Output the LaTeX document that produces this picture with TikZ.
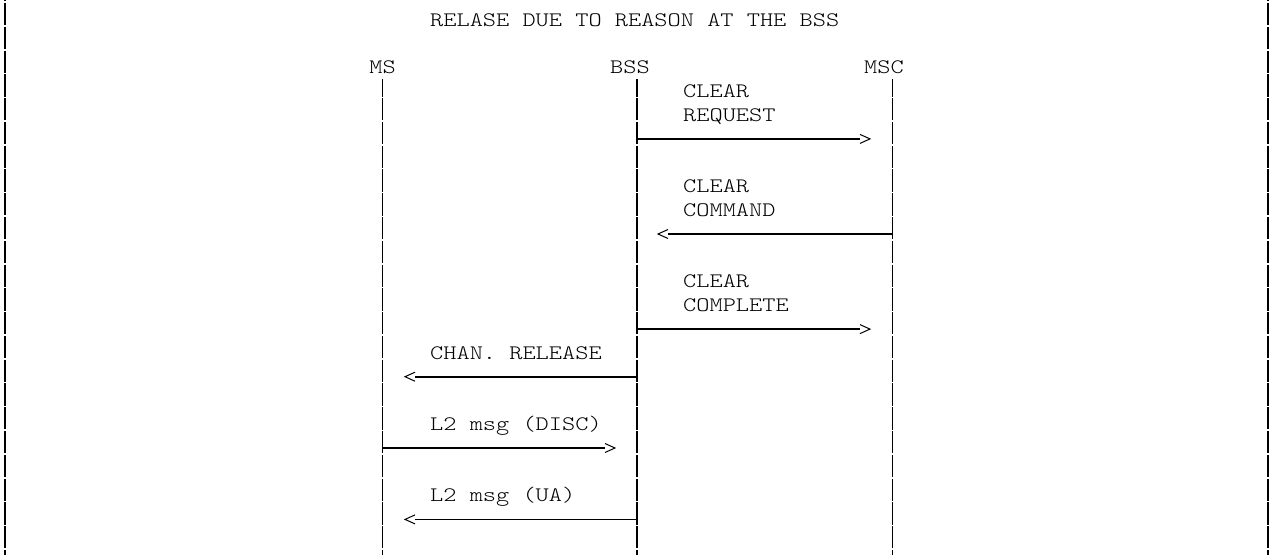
\documentclass[tikz,border=0pt]{standalone}
\usepackage{fontspec}
\newfontfamily\courfont{lmmonolt10-regular.otf}[FakeStretch=1.22]
\begin{document}
\begin{tikzpicture}[x=1pt,y=-1pt,
  txt/.style={font=\courfont\fontsize{20.6}{26}\selectfont, inner sep=0pt, anchor=base west},
  ctxt/.style={font=\courfont\fontsize{20.6}{26}\selectfont, inner sep=0pt, anchor=base},
  life/.style={line width=1.8pt, dash pattern=on 22.28pt off 1.5pt, dash phase=4.68pt},
  border/.style={line width=1.8pt, dash pattern=on 22.28pt off 1.5pt, dash phase=20.83pt},
  msg/.style={line width=1.6pt},
  rhead/.pic={\draw[line width=1pt] (-10,-4.5) -- (0,0) -- (-10,4.5);},
  lhead/.pic={\draw[line width=1pt] (10,-4.5) -- (0,0) -- (10,4.5);},
]
\useasboundingbox (0,0) rectangle (1274,555);
\fill[white] (0,0) rectangle (1274,555);

% borders
\coordinate (bLT) at (5.3,0);   \coordinate (bLB) at (5.3,555);
\coordinate (bRT) at (1268,0);  \coordinate (bRB) at (1268,555);
\draw[border] (bLT) -- (bLB);
\draw[border] (bRT) -- (bRB);

% title
\node[txt] (title) at (430,26.3) {RELASE DUE TO REASON AT THE BSS};

% heads of lifelines
\node[ctxt] (ms)  at (382.5,73.9) {MS};
\node[ctxt] (bss) at (630,73.9) {BSS};
\node[ctxt] (msc) at (884,73.9) {MSC};

\coordinate (msT)  at (382.5,79); \coordinate (msB)  at (382.5,555);
\coordinate (bssT) at (637,79);   \coordinate (bssB) at (637,555);
\coordinate (mscT) at (892.5,79); \coordinate (mscB) at (892.5,555);
\draw[life] (msT) -- (msB);
\draw[life] (bssT) -- (bssB);
\draw[life] (mscT) -- (mscB);

% CLEAR REQUEST
\node[txt] (l1a) at (683,97.6) {CLEAR};
\node[txt] (l1b) at (683,121.4) {REQUEST};
\coordinate (m1s) at (637,138.9); \coordinate (m1e) at (860,138.9);
\draw[msg] (m1s) -- (m1e);
\pic at (870,138.9) {rhead};

% CLEAR COMMAND
\node[txt] (l2a) at (683,192.8) {CLEAR};
\node[txt] (l2b) at (683,216.5) {COMMAND};
\coordinate (m2s) at (892.5,234.0); \coordinate (m2e) at (668,234.0);
\draw[msg] (m2s) -- (m2e);
\pic at (658,234.0) {lhead};

% CLEAR COMPLETE
\node[txt] (l3a) at (683,287.9) {CLEAR};
\node[txt] (l3b) at (683,311.7) {COMPLETE};
\coordinate (m3s) at (637,329.1); \coordinate (m3e) at (860,329.1);
\draw[msg] (m3s) -- (m3e);
\pic at (870,329.1) {rhead};

% CHAN. RELEASE
\node[txt] (l4) at (430,359.2) {CHAN. RELEASE};
\coordinate (m4s) at (637,376.7); \coordinate (m4e) at (415,376.7);
\draw[msg] (m4s) -- (m4e);
\pic at (405,376.7) {lhead};

% L2 msg (DISC)
\node[txt] (l5) at (430,430.6) {L2 msg (DISC)};
\coordinate (m5s) at (382.5,448.0); \coordinate (m5e) at (605,448.0);
\draw[msg] (m5s) -- (m5e);
\pic at (615,448.0) {rhead};

% L2 msg (UA)
\node[txt] (l6) at (430,501.9) {L2 msg (UA)};
\coordinate (m6s) at (637,519.4); \coordinate (m6e) at (415,519.4);
\draw[msg] (m6s) -- (m6e);
\pic at (405,519.4) {lhead};
\end{tikzpicture}
\end{document}
